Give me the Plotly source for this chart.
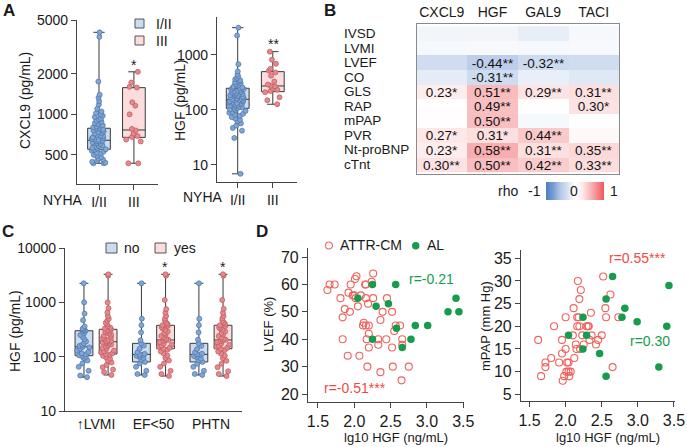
import plotly.graph_objects as go

W, H = 687, 447
FONT = "Liberation Sans, Arial, sans-serif"


def fx(p):
    return p / W


def fy(p):
    return 1 - p / H


# ---------------- Panel A data (NYHA class) ----------------
nyha_labels = ["I/II", "III"]

cxcl9_nyha12 = [4053, 3750, 1750, 1400, 1330, 1250, 1180, 1100, 1050, 1020, 1000, 975,
                955, 930, 915, 895, 880, 860, 845, 830, 815, 800, 790, 782, 770, 760,
                748, 740, 728, 720, 705, 698, 690, 676, 668, 660, 652, 645, 640, 632,
                628, 618, 610, 602, 590, 582, 575, 566, 558, 552, 546, 538, 530, 520,
                512, 500, 492, 482, 470, 462, 452, 445, 438, 434, 434]
cxcl9_nyha3 = [2066, 1720, 1600, 1580, 1230, 1160, 1000, 780, 760, 720, 690, 680, 650,
               630, 434, 434]
cxcl9_q1 = [551, 675]
cxcl9_med = [643, 766]
cxcl9_q3 = [789, 1577]
cxcl9_lo = [434, 434]
cxcl9_hi = [4053, 2066]

hgf_nyha12 = [3135, 2250, 680, 500, 440, 405, 380, 362, 345, 330, 318, 306, 296, 285,
              275, 266, 258, 252, 246, 240, 234, 228, 222, 216, 211, 205, 200, 195,
              190, 186, 182, 178, 174, 170, 166, 162, 159, 156, 153, 150, 147, 144,
              141, 138, 135, 132, 129, 126, 123, 120, 117, 114, 111, 108, 105, 102,
              99, 96, 92, 89, 85, 82, 78, 74, 70, 66, 62, 57, 52, 47, 42, 31, 6.9]
hgf_nyha3 = [1148, 820, 690, 560, 520, 480, 420, 330, 290, 275, 268, 250, 232, 220,
             210, 170, 150, 127]
hgf_q1 = [107, 215]
hgf_med = [156, 273]
hgf_q3 = [248, 497]
hgf_lo = [6.9, 127]
hgf_hi = [3135, 1148]

# ---------------- Panel B data (Spearman rho) ----------------
rho_rows = ["IVSD", "LVMI", "LVEF", "CO", "GLS", "RAP", "mPAP", "PVR", "Nt-proBNP", "cTnt"]
rho_cols = ["CXCL9", "HGF", "GAL9", "TACI"]
rho = [
    [-0.08, -0.08, -0.15, -0.06],
    [-0.06, -0.05, -0.06, -0.05],
    [-0.30, -0.44, -0.32, -0.30],
    [-0.16, -0.31, -0.14, -0.20],
    [0.23, 0.51, 0.29, 0.31],
    [0.02, 0.49, 0.01, 0.30],
    [0.02, 0.50, -0.06, 0.01],
    [0.27, 0.31, 0.44, 0.08],
    [0.23, 0.58, 0.31, 0.35],
    [0.30, 0.50, 0.42, 0.33],
]
rho_text = [
    ["", "", "", ""],
    ["", "", "", ""],
    ["", "-0.44**", "-0.32**", ""],
    ["", "-0.31**", "", ""],
    ["0.23*", "0.51**", "0.29**", "0.31**"],
    ["", "0.49**", "", "0.30*"],
    ["", "0.50**", "", ""],
    ["0.27*", "0.31*", "0.44**", ""],
    ["0.23*", "0.58**", "0.31**", "0.35**"],
    ["0.30**", "0.50**", "0.42**", "0.33**"],
]

# ---------------- Panel C data (HGF by phenotype) ----------------
c_labels = ["\u2191LVMI", "EF<50", "PHTN"]
c_ticks = ["10", "100", "1000", "10000"]

lvmi_no = [2240, 1000, 620, 470, 360, 330, 318, 308, 298, 288, 268, 250, 230, 210, 190,
           176, 165, 158, 152, 148, 140, 130, 122, 115, 110, 106, 103, 99, 94, 85, 75,
           65, 55, 45, 42]
lvmi_yes = [3280, 3100, 1000, 780, 650, 560, 500, 460, 420, 390, 362, 342, 330, 318,
            308, 298, 288, 278, 265, 252, 240, 230, 220, 210, 202, 196, 190, 188, 184,
            180, 174, 167, 160, 152, 145, 138, 130, 125, 120, 116, 112, 108, 104, 98,
            92, 85, 78, 70, 64, 58, 52, 46]
ef_no = [2240, 500, 380, 280, 200, 176, 160, 140, 120, 113, 110, 108, 104, 100, 95, 88,
         80, 75, 65, 55, 48, 46]
ef_yes = [3280, 3100, 1100, 750, 650, 560, 500, 462, 420, 400, 378, 368, 350, 330, 310,
          290, 270, 255, 240, 226, 212, 205, 200, 195, 185, 175, 168, 160, 152, 146,
          140, 134, 125, 115, 105, 95, 85, 75, 65, 55, 48, 44]
phtn_no = [2240, 500, 380, 280, 205, 176, 158, 138, 120, 113, 110, 108, 103, 98, 92, 86,
           80, 74, 65, 55, 48, 46]
phtn_yes = [3280, 3100, 1100, 760, 640, 560, 505, 460, 425, 400, 378, 365, 345, 330,
            312, 292, 272, 256, 240, 224, 212, 205, 200, 194, 184, 176, 166, 158, 152,
            146, 140, 132, 124, 114, 104, 94, 84, 74, 64, 54, 48, 44]
c_no_q1 = [104, 80, 80]
c_no_med = [152, 110, 110]
c_no_q3 = [300, 176, 176]
c_no_lo = [42, 46, 46]
c_no_hi = [2240, 2240, 2240]
c_yes_q1 = [112, 140, 140]
c_yes_med = [188, 203, 203]
c_yes_q3 = [319, 378, 378]
c_yes_lo = [46, 44, 44]
c_yes_hi = [3280, 3280, 3280]

# ---------------- Panel D data (lg10 HGF vs LVEF / mPAP) ----------------
attr_lvef_x = [1.63, 1.66, 1.73, 1.81, 1.84, 1.87, 1.84, 1.92, 1.94, 1.95, 1.91, 1.98,
               2.00, 2.01, 2.03, 2.02, 2.05, 2.07, 2.09, 2.12, 2.13, 2.15, 2.16, 2.16,
               2.16, 2.17, 2.18, 2.19, 2.20, 2.20, 2.20, 2.24, 2.26, 2.26, 2.33, 2.33,
               2.36, 2.36, 2.39, 2.44, 2.45, 2.52, 2.52, 2.53, 2.55, 2.57, 2.63, 2.65,
               2.66, 2.66, 2.75]
attr_lvef_y = [58, 60, 60, 55, 48, 51, 40, 57, 50, 60, 34, 56, 56, 62, 63, 55, 52, 34,
               56, 45, 46, 60, 60, 45, 55, 40, 30, 53, 45, 42, 37, 61, 64, 55, 40, 38,
               28, 47, 50, 40, 55, 50, 37, 30, 43, 45, 45, 25, 40, 38, 30]
al_lvef_x = [2.05, 2.25, 2.30, 2.47, 2.57, 2.58, 2.25, 2.66, 2.78, 2.84, 3.01, 3.29,
             3.40, 3.44]
al_lvef_y = [55, 60, 52, 53, 60, 44, 40, 37, 40, 45, 45, 50, 55, 50]

attr_mpap_x = [1.62, 1.66, 1.72, 1.72, 1.80, 1.84, 1.91, 1.95, 1.95, 1.96, 1.98, 2.00,
               2.00, 2.01, 2.02, 2.04, 2.04, 2.05, 2.07, 2.10, 2.11, 2.12, 2.14, 2.15,
               2.16, 2.16, 2.17, 2.18, 2.19, 2.19, 2.20, 2.21, 2.23, 2.25, 2.29, 2.31,
               2.32, 2.33, 2.35, 2.36, 2.42, 2.45, 2.50, 2.52, 2.55, 2.56, 2.62, 2.65,
               2.73]
attr_mpap_y = [17, 9, 12, 11, 13, 20, 12, 17, 14, 8, 9, 22, 15, 10, 12, 12, 10, 9, 10,
               18, 24, 13, 16, 15, 20, 22, 30, 22, 26, 20, 15, 28, 18, 16, 20, 20, 20,
               17, 23, 18, 16, 17, 18, 31, 24, 22, 27, 11, 22]
al_mpap_x = [2.04, 2.24, 2.24, 2.29, 2.47, 2.56, 2.56, 2.65, 2.78, 2.82, 2.99, 3.29,
             3.40, 3.43]
al_mpap_y = [18, 22, 15, 18, 14, 26, 9, 31, 22, 24, 21, 11, 20, 29]

# ---------------- colours ----------------
BLUE_FILL = "#c9dcf1"
BLUE_PT = "#7ea6d6"
BLUE_EDGE = "#4f73a3"
PINK_FILL = "#fcdcdc"
PINK_PT = "#e8878c"
PINK_EDGE = "#b85a60"
AXIS = "#444444"
RED = "#ee4a45"
GREEN = "#169c4c"

fig = go.Figure()


def add_box(ax, pos, width, q1, med, q3, lo, hi, fill, pts, pt_col, pt_edge):
    xa, ya = ax
    fig.add_trace(go.Box(
        x=[pos], q1=[q1], median=[med], q3=[q3], lowerfence=[lo], upperfence=[hi],
        orientation="v", width=width, whiskerwidth=0.5, fillcolor=fill,
        line=dict(color="#3a3a3a", width=1), boxpoints=False,
        xaxis=xa, yaxis=ya, showlegend=False, hoverinfo="skip"))
    fig.add_trace(go.Box(
        x=[pos] * len(pts), y=pts, width=width, boxpoints="all", jitter=0.8,
        pointpos=0, fillcolor="rgba(0,0,0,0)",
        line=dict(color="rgba(0,0,0,0)", width=0),
        marker=dict(size=5, color=pt_col, line=dict(color=pt_edge, width=0.7)),
        xaxis=xa, yaxis=ya, showlegend=False, hoverinfo="y"))


# Panel A
a_groups = [cxcl9_nyha12, cxcl9_nyha3]
for i in range(2):
    fill, pc, pe = (BLUE_FILL, BLUE_PT, BLUE_EDGE) if i == 0 else (PINK_FILL, PINK_PT, PINK_EDGE)
    add_box(("x", "y"), i, 0.65, cxcl9_q1[i], cxcl9_med[i], cxcl9_q3[i], cxcl9_lo[i],
            cxcl9_hi[i], fill, a_groups[i], pc, pe)
h_groups = [hgf_nyha12, hgf_nyha3]
for i in range(2):
    fill, pc, pe = (BLUE_FILL, BLUE_PT, BLUE_EDGE) if i == 0 else (PINK_FILL, PINK_PT, PINK_EDGE)
    add_box(("x2", "y2"), i, 0.65, hgf_q1[i], hgf_med[i], hgf_q3[i], hgf_lo[i],
            hgf_hi[i], fill, h_groups[i], pc, pe)

# Panel B heatmap
colorscale = [
    [0.0, "rgb(75,125,195)"], [0.125, "rgb(120,158,210)"], [0.25, "rgb(179,200,230)"],
    [0.375, "rgb(215,226,242)"], [0.5, "rgb(255,255,255)"], [0.625, "rgb(253,235,235)"],
    [0.75, "rgb(249,190,191)"], [0.875, "rgb(245,140,144)"], [1.0, "rgb(240,85,90)"],
]
fig.add_trace(go.Heatmap(
    z=rho, x=rho_cols, y=rho_rows, text=rho_text, texttemplate="%{text}",
    textfont=dict(family=FONT, size=13.5, color="#111111"),
    zmin=-1, zmax=1, colorscale=colorscale, xaxis="x3", yaxis="y3",
    colorbar=dict(orientation="h", x=fx(575), xanchor="center", y=fy(182),
                  yanchor="top", len=58, lenmode="pixels", thickness=18,
                  thicknessmode="pixels", xpad=0, ypad=0, outlinewidth=0,
                  showticklabels=False, ticks=""),
    hoverinfo="skip"))

# Panel C
no_groups = [lvmi_no, ef_no, phtn_no]
yes_groups = [lvmi_yes, ef_yes, phtn_yes]
for i in range(3):
    add_box(("x4", "y4"), i - 0.21, 0.31, c_no_q1[i], c_no_med[i], c_no_q3[i],
            c_no_lo[i], c_no_hi[i], BLUE_FILL, no_groups[i], BLUE_PT, BLUE_EDGE)
    add_box(("x4", "y4"), i + 0.21, 0.31, c_yes_q1[i], c_yes_med[i], c_yes_q3[i],
            c_yes_lo[i], c_yes_hi[i], PINK_FILL, yes_groups[i], PINK_PT, PINK_EDGE)

# Panel D
for xa, ya, ax_, ay_, bx_, by_ in [("x5", "y5", attr_lvef_x, attr_lvef_y, al_lvef_x, al_lvef_y),
                                   ("x6", "y6", attr_mpap_x, attr_mpap_y, al_mpap_x, al_mpap_y)]:
    fig.add_trace(go.Scatter(
        x=ax_, y=ay_, mode="markers", xaxis=xa, yaxis=ya, showlegend=False,
        marker=dict(symbol="circle-open", size=7, color="#f0625d", line=dict(width=1.1))))
    fig.add_trace(go.Scatter(
        x=bx_, y=by_, mode="markers", xaxis=xa, yaxis=ya, showlegend=False,
        marker=dict(symbol="circle", size=7.5, color=GREEN)))

# ---------------- axes ----------------
base = dict(showline=True, linecolor=AXIS, linewidth=1.2, ticks="outside", ticklen=5,
            tickcolor=AXIS, tickwidth=1.2, showgrid=False, zeroline=False,
            tickfont=dict(family=FONT, size=14, color="#1a1a1a"), automargin=False,
            ticklabeloverflow="allow")
dfont = dict(family=FONT, size=16, color="#1a1a1a")

fig.update_layout(
    width=W, height=H, margin=dict(l=0, r=0, t=0, b=0),
    paper_bgcolor="white", plot_bgcolor="white", template="none",
    boxmode="overlay", showlegend=False,
    font=dict(family=FONT, size=14, color="#1a1a1a"),
    xaxis=dict(base, domain=[fx(77), fx(158)], anchor="y", range=[-0.63, 1.69],
               tickvals=[0, 1], ticktext=nyha_labels),
    yaxis=dict(base, domain=[fy(184), fy(20)], anchor="x", type="log",
               range=[2.484, 3.699], tickvals=[500, 1000, 2000, 5000]),
    xaxis2=dict(base, domain=[fx(217), fx(297)], anchor="y2", range=[-0.59, 1.69],
                tickvals=[0, 1], ticktext=nyha_labels),
    yaxis2=dict(base, domain=[fy(182), fy(17)], anchor="x2", type="log",
                range=[0.69, 3.69], tickvals=[10, 100, 1000]),
    xaxis3=dict(domain=[fx(416.5), fx(619)], anchor="y3", side="top", showline=True,
                mirror=True, linecolor="#8a8a8a", linewidth=1.2, ticks="",
                showgrid=False, zeroline=False, automargin=False,
                tickfont=dict(family=FONT, size=14, color="#1a1a1a")),
    yaxis3=dict(domain=[fy(174), fy(24)], anchor="x3", autorange="reversed",
                showticklabels=False, showline=True, mirror=True, linecolor="#8a8a8a",
                linewidth=1.2, ticks="", showgrid=False, zeroline=False, automargin=False),
    xaxis4=dict(base, domain=[fx(65), fx(242)], anchor="y4", range=[-0.54, 2.54],
                tickvals=[0, 1, 2], ticktext=c_labels, ticks=""),
    yaxis4=dict(base, domain=[fy(411), fy(248)], anchor="x4", type="log",
                range=[1, 4], tickvals=[10, 100, 1000, 10000], ticktext=c_ticks),
    xaxis5=dict(base, domain=[fx(308), fx(464)], anchor="y5", range=[1.363, 3.51],
                tickvals=[1.5, 2, 2.5, 3, 3.5], tickformat=".1f", tickfont=dfont),
    yaxis5=dict(base, domain=[fy(402), fy(248)], anchor="x5", range=[17.1, 73.3],
                tickvals=[20, 30, 40, 50, 60, 70], tickfont=dfont),
    xaxis6=dict(base, domain=[fx(521), fx(675)], anchor="y6", range=[1.382, 3.514],
                tickvals=[1.5, 2, 2.5, 3, 3.5], tickformat=".1f", tickfont=dfont),
    yaxis6=dict(base, domain=[fy(401), fy(250)], anchor="x6", range=[3.52, 36.83],
                tickvals=[5, 10, 15, 20, 25, 30, 35], tickfont=dfont),
)

# ---------------- annotations ----------------
ann = []


def text(x, y, s, size=14, color="#1a1a1a", angle=0, xanchor="center", bold=False):
    if bold:
        s = "<b>" + s + "</b>"
    ann.append(dict(x=fx(x), y=fy(y), xref="paper", yref="paper", text=s,
                    showarrow=False, xanchor=xanchor, yanchor="middle",
                    textangle=angle, font=dict(family=FONT, size=size, color=color)))


# panel letters
text(9, 10, "A", 17, bold=True)
text(330, 10, "B", 17, bold=True)
text(8, 232, "C", 17, bold=True)
text(262, 232, "D", 17, bold=True)

# panel A
text(25, 100, "CXCL9 (pg/mL)", 14, angle=-90)
text(180, 100, "HGF (pg/mL)", 14, angle=-90)
text(63, 200, "NYHA", 14)
text(203, 197, "NYHA", 14)
text(134, 65, "*", 14)
text(273, 44, "**", 14)
text(154, 23.5, "I/II", 14, xanchor="left")
text(154, 40.5, "III", 14, xanchor="left")

# panel B row labels and colorbar labels
for r in rho_rows:
    ann.append(dict(x=fx(342), y=r, xref="paper", yref="y3", text=r, showarrow=False,
                    xanchor="left", yanchor="middle",
                    font=dict(family=FONT, size=13.5, color="#1a1a1a")))
text(508, 191, "rho", 14)
text(534, 191, "-1", 14)
text(574, 191, "0", 14)
text(614, 191, "1", 14)

# panel C
text(15, 331, "HGF (pg/mL)", 14, angle=-90)
text(165, 267, "*", 14)
text(223, 267, "*", 14)
text(122, 248, "no", 14, xanchor="left")
text(172, 248, "yes", 14, xanchor="left")

# panel D
text(268, 325, "LVEF (%)", 13, angle=-90)
text(485, 326, "mPAP (mm Hg)", 13, angle=-90)
text(396, 437, "lg10 HGF (ng/mL)", 13)
text(608, 437, "lg10 HGF (ng/mL)", 13)
text(338, 245.5, "ATTR-CM", 14, xanchor="left")
text(425, 245.5, "AL", 14, xanchor="left")
text(431, 279, "r=-0.21", 14, color=GREEN)
text(355, 388, "r=-0.51***", 14, color=RED)
text(637, 258, "r=0.55***", 14, color=RED)
text(650, 341, "r=0.30", 14, color=GREEN)

fig.update_layout(annotations=ann)

# legend swatches
shapes = []


def rect(x0, y0, x1, y1, fill):
    shapes.append(dict(type="rect", xref="paper", yref="paper", x0=fx(x0), x1=fx(x1),
                       y0=fy(y1), y1=fy(y0), fillcolor=fill,
                       line=dict(color="#555555", width=1)))


rect(135, 19, 144, 28, BLUE_FILL)
rect(135, 36, 144, 45, PINK_FILL)
rect(106, 243, 117, 253, BLUE_FILL)
rect(155, 243, 166, 253, PINK_FILL)
shapes.append(dict(type="circle", xref="paper", yref="paper", x0=fx(325.5), x1=fx(332.5),
                   y0=fy(249), y1=fy(242), line=dict(color="#f0625d", width=1.1)))
shapes.append(dict(type="circle", xref="paper", yref="paper", x0=fx(412), x1=fx(419.5),
                   y0=fy(249.5), y1=fy(242), fillcolor=GREEN, line=dict(color=GREEN, width=0)))
fig.update_layout(shapes=shapes)

# page body margin off so the figure sits at the window origin
fig.write_html("out.html", config={"displayModeBar": False},
               post_script="document.body.style.margin='0px';")
